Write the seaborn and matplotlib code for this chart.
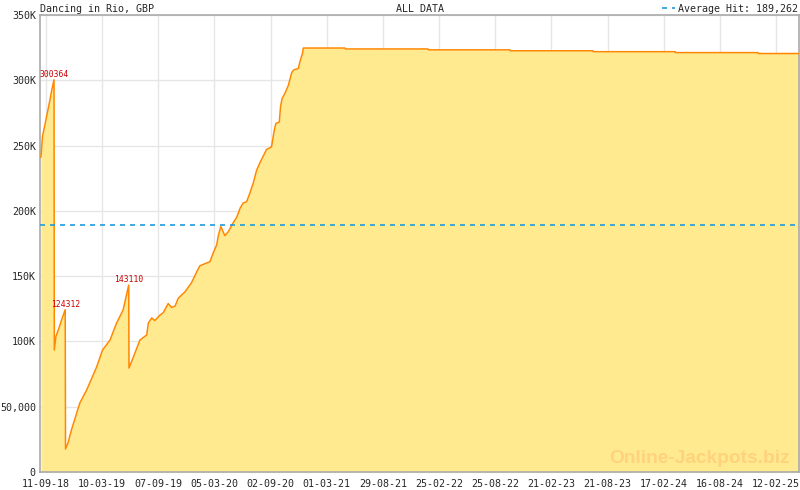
import pandas as pd
import matplotlib.pyplot as plt
import seaborn as sns

# jackpot history
draw_dates = [
    "2018-08-26", "2018-08-31", "2018-09-11", "2018-09-22", "2018-09-30", "2018-10-07",
    "2018-10-08", "2018-10-13", "2018-10-24", "2018-11-04", "2018-11-12",
    "2018-11-13", "2018-11-21", "2018-12-02", "2018-12-29", "2019-01-20", "2019-02-21",
    "2019-03-12", "2019-04-05", "2019-04-26", "2019-05-17", "2019-06-04",
    "2019-06-05", "2019-06-19", "2019-07-10", "2019-08-01", "2019-08-06", "2019-08-17",
    "2019-08-27", "2019-09-12", "2019-09-23", "2019-10-09", "2019-10-20", "2019-10-31",
    "2019-11-10", "2019-12-02", "2019-12-23", "2020-01-08", "2020-01-19", "2020-02-09",
    "2020-02-20", "2020-03-02", "2020-03-13", "2020-03-18", "2020-03-26", "2020-04-08",
    "2020-04-19", "2020-05-05", "2020-05-16", "2020-05-27", "2020-06-06", "2020-06-17",
    "2020-06-28", "2020-07-08", "2020-07-19", "2020-07-30", "2020-08-20", "2020-09-05",
    "2020-09-14", "2020-09-19", "2020-09-30", "2020-10-04", "2020-10-09", "2020-10-18",
    "2020-10-29", "2020-11-09", "2020-11-16", "2020-11-30", "2020-12-05", "2020-12-14",
    "2020-12-16", "2021-04-29", "2021-04-30", "2022-01-21", "2022-01-22", "2022-10-11",
    "2022-10-12", "2023-07-05", "2023-07-06", "2024-03-25", "2024-03-26", "2024-12-16",
    "2024-12-17", "2025-04-27",
]
jackpot_values = [
    241000, 257000, 269600, 282600, 292600, 300364,
    93400, 103600, 111000, 119000, 124312,
    17600, 22200, 32200, 52800, 62800, 80400,
    93400, 101000, 114000, 124000, 143110,
    79600, 88000, 101000, 105000, 114000, 118000,
    116000, 120000, 122000, 129000, 126000, 127000,
    133000, 138000, 145000, 153000, 158000, 160000,
    161000, 168000, 174000, 181000, 188000, 181000,
    184000, 191000, 195000, 202000, 206000, 207000,
    214000, 221000, 231000, 237000, 247000, 249000,
    262000, 267000, 268000, 280000, 286000, 290000,
    296000, 306000, 308000, 309000, 314000, 321000,
    324700, 324700, 324000, 324000, 323300, 323300,
    322600, 322600, 321900, 321900, 321200, 321200,
    320500, 320500,
]
peak_dates = ["2018-10-07", "2018-11-12", "2019-06-04"]
peak_values = [300364, 124312, 143110]
average_hit = 189262

tick_dates = ["2018-09-11", "2019-03-10", "2019-09-07", "2020-03-05", "2020-09-02",
              "2021-03-01", "2021-08-29", "2022-02-25", "2022-08-25", "2023-02-21",
              "2023-08-21", "2024-02-17", "2024-08-16", "2025-02-12"]
y_ticks = [0, 50000, 100000, 150000, 200000, 250000, 300000, 350000]
y_labels = ["0", "50,000", "100K", "150K", "200K", "250K", "300K", "350K"]

df = pd.DataFrame({"date": pd.to_datetime(draw_dates), "jackpot": jackpot_values})

sns.set_style("white")
plt.rcParams['font.family'] = ['DejaVu Sans Mono']

fig = plt.figure(figsize=(8, 4.9), dpi=100)
ax = fig.add_axes([40 / 800, 18 / 490, 759 / 800, 457 / 490])

ax.fill_between(df["date"], df["jackpot"], 0, color="#FFEA8F", lw=0, zorder=2)
sns.lineplot(data=df, x="date", y="jackpot", ax=ax, color="#FF8800", lw=1.1,
             sort=False, zorder=3)
ax.axhline(average_hit, color="#1F9BDB", lw=1.2, ls=(0, (3, 3)), zorder=4,
           label=f"Average Hit: {average_hit:,}")

for d, v in zip(peak_dates, peak_values):
    ax.text(pd.Timestamp(d), v + 500, str(v), color="#CC0000", fontsize=5.8,
            ha="center", va="bottom", zorder=5)

ax.text(0.988, 0.012, "Online-Jackpots.biz", transform=ax.transAxes, ha="right",
        va="bottom", fontsize=13.8, fontweight="bold", color="#FFD27C",
        family="Liberation Sans", zorder=3)

ax.set_xlim(pd.Timestamp("2018-08-23"), pd.Timestamp("2025-04-27"))
ax.set_ylim(0, 350000)

major = pd.to_datetime(tick_dates)
ax.set_xticks(major)
ax.set_xticklabels([t.strftime("%d-%m-%y") for t in major])
minor = pd.date_range("2018-09-11", "2025-04-27", freq="30D")
ax.set_xticks(minor, minor=True)
ax.set_yticks(y_ticks)
ax.set_yticklabels(y_labels)

ax.tick_params(axis="x", which="major", direction="in", length=6, color="#AAAAAA",
               labelsize=7.2, pad=5)
ax.tick_params(axis="x", which="minor", direction="in", length=3, color="#AAAAAA")
ax.tick_params(axis="y", length=0, labelsize=7.2, pad=3)
ax.grid(True, which="major", color="#E6E6E6", lw=1, zorder=1)
ax.set_axisbelow(True)
for s in ax.spines.values():
    s.set_color("#AAAAAA")
    s.set_linewidth(1.2)
ax.set_xlabel("")
ax.set_ylabel("")

ax.set_title("Dancing in Rio, GBP", loc="left", fontsize=7.2, pad=2)
ax.set_title("ALL DATA", loc="center", fontsize=7.2, pad=2)
ax.legend(loc="lower right", bbox_to_anchor=(1.0, 1.0), frameon=False, fontsize=7.2,
          handlelength=1.3, handletextpad=0.3, borderpad=0, borderaxespad=0.15)

fig.savefig("out.png", dpi=100)
